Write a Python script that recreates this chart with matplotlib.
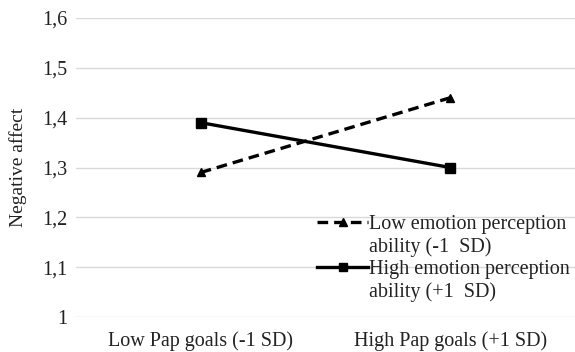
import matplotlib
matplotlib.use("Agg")
import matplotlib.pyplot as plt
from matplotlib.lines import Line2D

categories = ["Low Pap goals (-1 SD)", "High Pap goals (+1 SD)"]
low_epa = [1.29, 1.44]
high_epa = [1.39, 1.30]
label_lines = [["Low emotion perception", "ability (-1  SD)"],
               ["High emotion perception", "ability (+1  SD)"]]
yticks = [1.0, 1.1, 1.2, 1.3, 1.4, 1.5, 1.6]
ytick_labels = ["1", "1,1", "1,2", "1,3", "1,4", "1,5", "1,6"]

plt.rcParams['font.family'] = ['Liberation Serif', 'DejaVu Serif']

fig = plt.figure(figsize=(5.75, 3.52), dpi=100)
ax = fig.add_axes([76/575, 1 - 317/352, (575-76)/575, (317-18)/352])

x = list(range(len(categories)))
h1, = ax.plot(x, low_epa, color='black', linestyle=(0, (3.2, 1.8)), linewidth=2.4,
              marker='^', markersize=6, label=label_lines[0][0])
h2, = ax.plot(x, high_epa, color='black', linestyle='-', linewidth=2.4,
              marker='s', markersize=6.5, label=label_lines[1][0])

ax.set_xlim(-0.5, 1.5)
ax.set_ylim(1.0, 1.6)
ax.set_yticks(yticks)
ax.set_yticklabels(ytick_labels, fontsize=14.5)
ax.set_xticks(x)
ax.set_xticklabels(categories, fontsize=14.5)
ax.tick_params(axis='both', length=0, colors='#222222')
ax.tick_params(axis='x', pad=10)
ax.tick_params(axis='y', pad=6)
ax.yaxis.grid(True, color='#d9d9d9', linewidth=1)
ax.set_axisbelow(True)
for s in ax.spines.values():
    s.set_visible(False)
ax.set_ylabel("Negative affect", fontsize=14, color='#222222', labelpad=11)

blank = Line2D([], [], linestyle='none', marker=None)
handles = [h1, blank, h2, blank]
labels = [label_lines[0][0], label_lines[0][1], label_lines[1][0], label_lines[1][1]]
leg = ax.legend(handles, labels, loc='upper left', bbox_to_anchor=(0.483, 0.34),
                frameon=False, fontsize=14.5, handlelength=2.55, handletextpad=0.05,
                labelspacing=0.15, borderaxespad=0, borderpad=0, markerscale=0.9)
for t in leg.get_texts():
    t.set_color('#222222')

fig.savefig("out.png", dpi=100)
